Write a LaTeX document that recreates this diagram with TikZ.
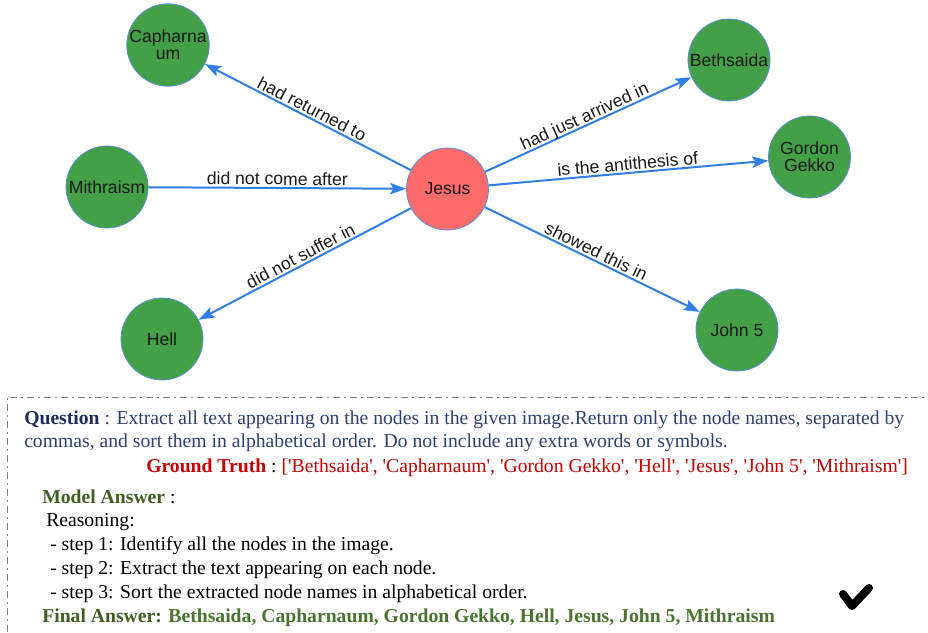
\documentclass[tikz,border=0pt]{standalone}
\usepackage{fontspec}
\setmainfont{Liberation Serif}
\newfontfamily\graphfont{Liberation Sans}
\usetikzlibrary{arrows.meta}

\definecolor{edgeblue}{HTML}{2F7FE6}
\definecolor{rimblue}{HTML}{5A8FD8}
\definecolor{nodegreen}{HTML}{43A047}
\definecolor{nodered}{HTML}{FF6B6B}
\definecolor{qnavy}{HTML}{2E3F72}
\definecolor{qnavydark}{HTML}{1F2D5E}
\definecolor{gtred}{HTML}{C80000}
\definecolor{ansgreen}{HTML}{3F5E22}
\definecolor{finalgreen}{HTML}{4A7230}
\definecolor{framegray}{HTML}{808080}

\newcommand{\sq}{\textquotesingle}

\tikzset{
  entity/.style={circle, draw=rimblue, line width=0.6pt, fill=nodegreen,
    minimum size=61.5pt, inner sep=0pt, align=center,
    font=\graphfont\fontsize{13.2}{12.5}\selectfont, text=black!90},
  centre/.style={entity, fill=nodered},
  link/.style={draw=edgeblue, line width=1.5pt,
    -{Stealth[length=12pt, width=8.5pt, inset=2.5pt]}},
  elabel/.style={sloped, above, inner sep=1.5pt, text depth=0pt,
    font=\graphfont\fontsize{13.2}{13}\selectfont, text=black!90},
  line/.style={anchor=base west, inner sep=0pt,
    font=\fontsize{14.75}{16}\selectfont},
  frame/.style={draw=framegray, line width=0.7pt,
    dash pattern=on 5.25pt off 3pt on 1.5pt off 3pt},
}

\begin{document}
\begin{tikzpicture}[x=0.75pt, y=-0.75pt]
  \useasboundingbox (0,0) rectangle (928,632);

  % graph nodes
  \node[centre] (jesus) at (447.5,189) {Jesus};
  \node[entity] (caph)  at (168,45)    {Capharna\\um};
  \node[entity] (mith)  at (107,187)   {Mithraism};
  \node[entity] (hell)  at (162,339)   {Hell};
  \node[entity] (beth)  at (729,60)    {Bethsaida};
  \node[entity] (gekko) at (809.5,157) {Gordon\\Gekko};
  \node[entity] (john)  at (737,330)   {John 5};

  % relations
  \draw[link] (jesus) -- node[elabel] {had returned to} (caph);
  \draw[link] (mith)  -- node[elabel] {did not come after} (jesus);
  \draw[link] (jesus) -- node[elabel] {did not suffer in} (hell);
  \draw[link] (jesus) -- node[elabel] {had just arrived in} (beth);
  \draw[link] (jesus) -- node[elabel] {is the antithesis of} (gekko);
  \draw[link] (jesus) -- node[elabel] {showed this in} (john);

  % answer panel frame (top and left edges)
  \coordinate (fl) at (7,632);
  \coordinate (fc) at (7,397);
  \coordinate (fr) at (928,397);
  \draw[frame] (fl) -- (fc) -- (fr);

  % question and answers
  \node[line, text=qnavy] (q1) at (24,424)
    {\textbf{\color{qnavydark}Question} : Extract all text appearing on the nodes in the given image.Return only the node names, separated by};
  \node[line, text=qnavy] (q2) at (24,447)
    {commas, and sort them in alphabetical order. Do not include any extra words or symbols.};
  \node[line, text=gtred] (gt) at (146,472)
    {\textbf{Ground Truth}~\textcolor{black}{:}~[\sq Bethsaida\sq, \sq Capharnaum\sq, \sq Gordon Gekko\sq, \sq Hell\sq, \sq Jesus\sq, \sq John 5\sq, \sq Mithraism\sq]};
  \node[line] (ma) at (42,503) {\textbf{\color{ansgreen}Model Answer} :};
  \node[line] (r0) at (46,526) {Reasoning:};
  \node[line] (r1) at (50,550) {- step 1: Identify all the nodes in the image.};
  \node[line] (r2) at (50,574) {- step 2: Extract the text appearing on each node.};
  \node[line] (r3) at (50,598) {- step 3: Sort the extracted node names in alphabetical order.};
  \node[line, text=finalgreen] (fa) at (42,622)
    {\textbf{\color{ansgreen}Final Answer:} \textbf{Bethsaida, Capharnaum, Gordon Gekko, Hell, Jesus, John 5, Mithraism}};

  % check mark
  \draw[line width=6pt, line cap=round, line join=round]
    (843,594) -- (852,606) -- (869,588);
\end{tikzpicture}
\end{document}
